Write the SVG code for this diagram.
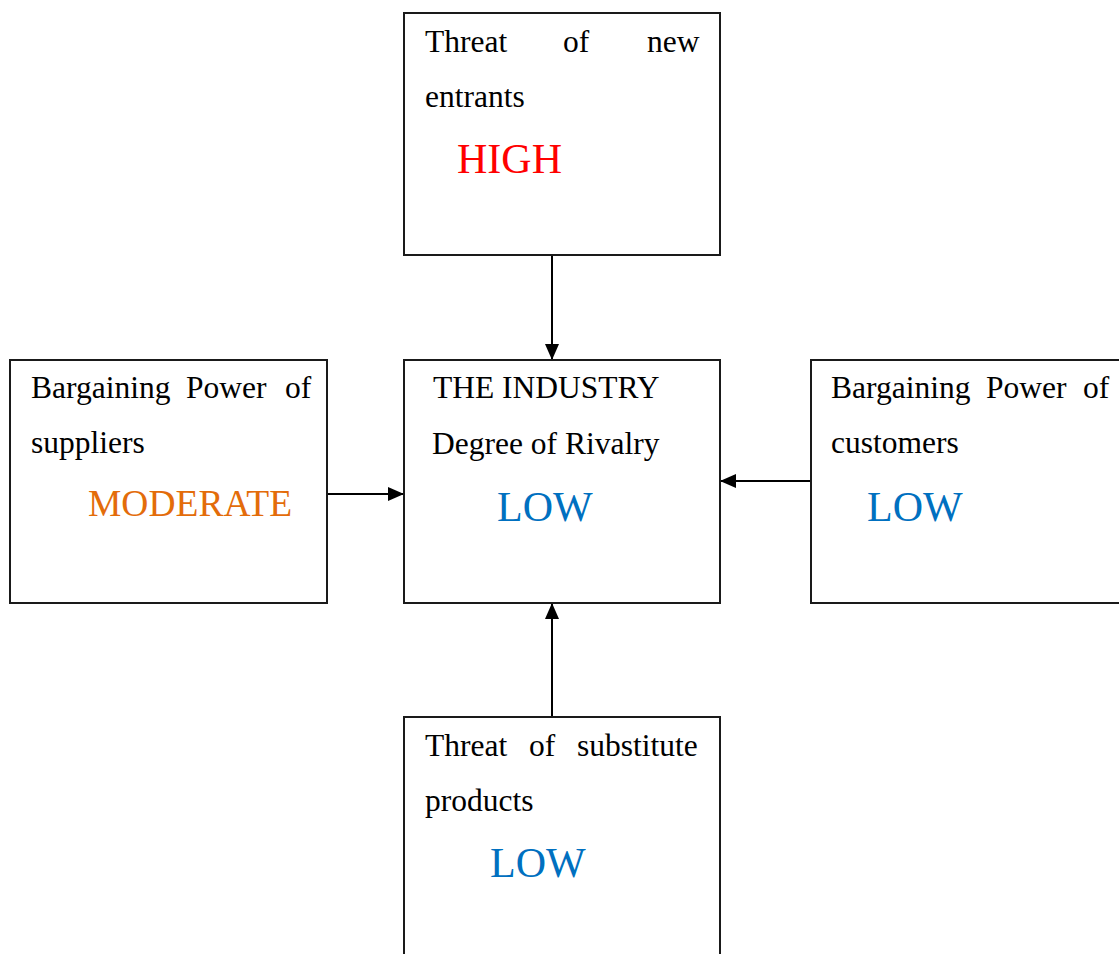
<svg xmlns="http://www.w3.org/2000/svg" width="1119" height="954" viewBox="0 0 1119 954">
<style>
.box{fill:#fff;stroke:#1a1a1a;stroke-width:2}
text{font-family:'Liberation Serif','Times New Roman','DejaVu Serif',serif}
.t{font-size:31.5px;fill:#000}
.v{font-size:42px}
.con{stroke:#000;stroke-width:2;fill:none}
</style>
<defs>
<marker id="ah" viewBox="0 0 16 14" refX="16" refY="7" markerWidth="16" markerHeight="14" markerUnits="userSpaceOnUse" orient="auto">
<path d="M0,0 L16,7 L0,14 Z" fill="#000"/>
</marker>
</defs>
<rect width="1119" height="954" fill="#fff"/>
<g id="connectors">
<line class="con" x1="552" y1="256" x2="552" y2="360" marker-end="url(#ah)"/>
<line class="con" x1="328" y1="494" x2="404" y2="494" marker-end="url(#ah)"/>
<line class="con" x1="811" y1="481" x2="720" y2="481" marker-end="url(#ah)"/>
<line class="con" x1="552" y1="717" x2="552" y2="603" marker-end="url(#ah)"/>
</g>
<g id="new-entrants" font-family="Liberation Serif, serif">
<rect class="box" x="404" y="13" width="316" height="242"/>
<text class="t" y="52"><tspan x="425">Threat</tspan><tspan x="563">of</tspan><tspan x="647">new</tspan></text>
<text class="t" x="425" y="107">entrants</text>
<text class="v" x="457" y="173" fill="#ff0000">HIGH</text>
</g>
<g id="suppliers" font-family="Liberation Serif, serif">
<rect class="box" x="10" y="360" width="317" height="243"/>
<text class="t" y="398"><tspan x="31">Bargaining</tspan><tspan x="186">Power</tspan><tspan x="285">of</tspan></text>
<text class="t" x="31" y="453">suppliers</text>
<text class="v" x="88" y="516" fill="#e36c0a" style="font-size:37.5px">MODERATE</text>
</g>
<g id="industry" font-family="Liberation Serif, serif">
<rect class="box" x="404" y="360" width="316" height="243"/>
<text class="t" x="433" y="398">THE INDUSTRY</text>
<text class="t" x="432" y="454">Degree of Rivalry</text>
<text class="v" x="497" y="521" fill="#0070c0">LOW</text>
</g>
<g id="customers" font-family="Liberation Serif, serif">
<rect class="box" x="811" y="360" width="320" height="243"/>
<text class="t" y="398"><tspan x="831">Bargaining</tspan><tspan x="986">Power</tspan><tspan x="1083">of</tspan></text>
<text class="t" x="831" y="453">customers</text>
<text class="v" x="867" y="521" fill="#0070c0">LOW</text>
</g>
<g id="substitutes" font-family="Liberation Serif, serif">
<rect class="box" x="404" y="717" width="316" height="250"/>
<text class="t" y="756"><tspan x="425">Threat</tspan><tspan x="529">of</tspan><tspan x="577">substitute</tspan></text>
<text class="t" x="425" y="811">products</text>
<text class="v" x="490" y="877" fill="#0070c0">LOW</text>
</g>
</svg>
